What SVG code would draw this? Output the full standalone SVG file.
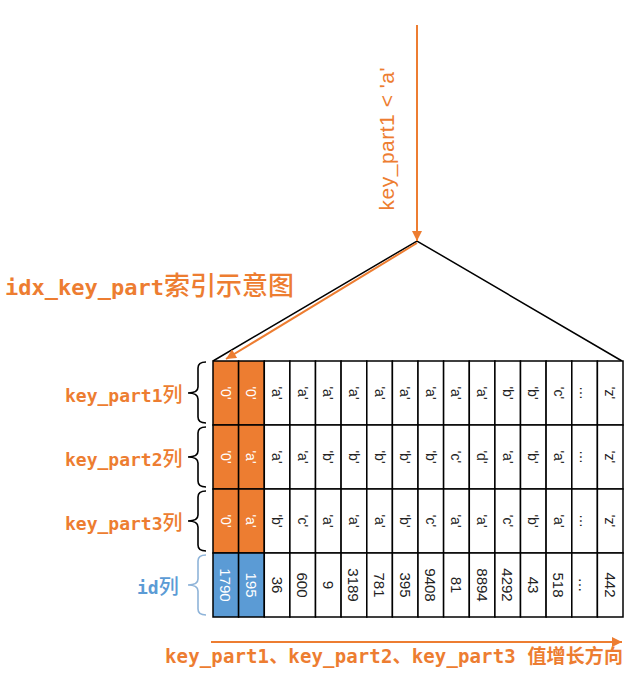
<svg xmlns="http://www.w3.org/2000/svg" width="640" height="686" viewBox="0 0 640 686">
<defs>
<style>
.lbl{font-family:"DejaVu Sans Mono","Noto Sans CJK SC",monospace;fill:#ED7D31;font-weight:bold}
.cjk{font-family:"Noto Sans CJK SC",sans-serif;font-weight:500}
.cell{fill:#fff;stroke:#000;stroke-width:1.5}
.or{fill:#ED7D31;stroke:#000;stroke-width:1.5}
.bl{fill:#5B9BD5;stroke:#000;stroke-width:1.5}
.t{font-family:"Liberation Sans",Arial,sans-serif;font-size:14px;fill:#222;text-anchor:middle;dominant-baseline:central}
.n{font-size:15px}
.w{fill:#fff}
.brace{fill:none;stroke:#000;stroke-width:1.6}
.conn{fill:none;stroke:#ED7D31;stroke-width:2}
.edge{fill:none;stroke:#000;stroke-width:1.5}
</style>
<marker id="ah" viewBox="0 0 10 10" refX="10" refY="5" markerWidth="12" markerHeight="10" markerUnits="userSpaceOnUse" orient="auto">
<path d="M0,0 L10,5 L0,10 z" fill="#ED7D31"/>
</marker>
</defs>
<rect width="640" height="686" fill="#fff"/>

<g id="title">
<text class="lbl" x="5" y="295"><tspan font-size="22">idx_key_part</tspan><tspan class="cjk" font-size="26">索引示意图</tspan></text>
</g>

<g id="tree">
<path class="edge" d="M213,361 L417,241 L622,361"/>
</g>

<g id="connectors">
<line class="conn" x1="417" y1="25" x2="417" y2="241" marker-end="url(#ah)"/>
<line class="conn" x1="417" y1="243" x2="226" y2="359" marker-end="url(#ah)"/>
<line class="conn" x1="211" y1="642" x2="622" y2="642" marker-end="url(#ah)"/>
</g>

<g id="condition">
<text x="0" y="0" transform="translate(394,139) rotate(-90)" font-family="Liberation Sans,Arial,sans-serif" font-size="21" fill="#ED7D31" text-anchor="middle" textLength="143">key_part1 &lt; 'a'</text>
</g>

<g id="labels">
<text class="lbl" x="65" y="402"><tspan font-size="18">key_part1</tspan><tspan class="cjk" font-size="20">列</tspan></text>
<text class="lbl" x="65" y="466"><tspan font-size="18">key_part2</tspan><tspan class="cjk" font-size="20">列</tspan></text>
<text class="lbl" x="65" y="530"><tspan font-size="18">key_part3</tspan><tspan class="cjk" font-size="20">列</tspan></text>
<text class="lbl" x="137" y="594" style="fill:#5B9BD5"><tspan font-size="18">id</tspan><tspan class="cjk" font-size="20">列</tspan></text>
<path class="brace" d="M206,362 Q198,362 198,368 L198,387 Q198,393 188,393 Q198,393 198,399 L198,417 Q198,423 206,423"/>
<path class="brace" d="M206,427 Q198,427 198,433 L198,451 Q198,457 188,457 Q198,457 198,463 L198,481 Q198,487 206,487"/>
<path class="brace" d="M206,491 Q198,491 198,497 L198,515 Q198,521 188,521 Q198,521 198,527 L198,545 Q198,551 206,551"/>
<path class="brace" style="stroke:#8FB4D9" d="M206,555 Q198,555 198,561 L198,579 Q198,585 188,585 Q198,585 198,591 L198,609 Q198,615 206,615"/>
</g>

<g id="row-key_part1">
<rect class="or" x="213" y="361" width="25.6" height="64"/><rect class="or" x="238.6" y="361" width="25.7" height="64"/>
<rect class="cell" x="264.3" y="361" width="25.6" height="64"/><rect class="cell" x="289.9" y="361" width="25.6" height="64"/>
<rect class="cell" x="315.5" y="361" width="25.6" height="64"/><rect class="cell" x="341.1" y="361" width="25.7" height="64"/>
<rect class="cell" x="366.8" y="361" width="25.6" height="64"/><rect class="cell" x="392.4" y="361" width="25.6" height="64"/>
<rect class="cell" x="418" y="361" width="25.6" height="64"/><rect class="cell" x="443.6" y="361" width="25.7" height="64"/>
<rect class="cell" x="469.3" y="361" width="25.6" height="64"/><rect class="cell" x="494.9" y="361" width="25.6" height="64"/>
<rect class="cell" x="520.5" y="361" width="25.6" height="64"/><rect class="cell" x="546.1" y="361" width="25.7" height="64"/>
<rect class="cell" x="571.8" y="361" width="25.6" height="64"/><rect class="cell" x="597.4" y="361" width="25.6" height="64"/>
<text class="t w" transform="translate(225.8,393) rotate(90)">'0'</text>
<text class="t w" transform="translate(251.4,393) rotate(90)">'0'</text>
<text class="t" transform="translate(277.1,393) rotate(90)">'a'</text>
<text class="t" transform="translate(302.7,393) rotate(90)">'a'</text>
<text class="t" transform="translate(328.3,393) rotate(90)">'a'</text>
<text class="t" transform="translate(353.9,393) rotate(90)">'a'</text>
<text class="t" transform="translate(379.6,393) rotate(90)">'a'</text>
<text class="t" transform="translate(405.2,393) rotate(90)">'a'</text>
<text class="t" transform="translate(430.8,393) rotate(90)">'a'</text>
<text class="t" transform="translate(456.4,393) rotate(90)">'a'</text>
<text class="t" transform="translate(482.1,393) rotate(90)">'a'</text>
<text class="t" transform="translate(507.7,393) rotate(90)">'b'</text>
<text class="t" transform="translate(533.3,393) rotate(90)">'b'</text>
<text class="t" transform="translate(558.9,393) rotate(90)">'c'</text>
<text class="t" transform="translate(584.6,393) rotate(90)">…</text>
<text class="t" transform="translate(610.2,393) rotate(90)">'z'</text>
</g>

<g id="row-key_part2">
<rect class="or" x="213" y="425" width="25.6" height="64"/><rect class="or" x="238.6" y="425" width="25.7" height="64"/>
<rect class="cell" x="264.3" y="425" width="25.6" height="64"/><rect class="cell" x="289.9" y="425" width="25.6" height="64"/>
<rect class="cell" x="315.5" y="425" width="25.6" height="64"/><rect class="cell" x="341.1" y="425" width="25.7" height="64"/>
<rect class="cell" x="366.8" y="425" width="25.6" height="64"/><rect class="cell" x="392.4" y="425" width="25.6" height="64"/>
<rect class="cell" x="418" y="425" width="25.6" height="64"/><rect class="cell" x="443.6" y="425" width="25.7" height="64"/>
<rect class="cell" x="469.3" y="425" width="25.6" height="64"/><rect class="cell" x="494.9" y="425" width="25.6" height="64"/>
<rect class="cell" x="520.5" y="425" width="25.6" height="64"/><rect class="cell" x="546.1" y="425" width="25.7" height="64"/>
<rect class="cell" x="571.8" y="425" width="25.6" height="64"/><rect class="cell" x="597.4" y="425" width="25.6" height="64"/>
<text class="t w" transform="translate(225.8,457) rotate(90)">'0'</text>
<text class="t w" transform="translate(251.4,457) rotate(90)">'a'</text>
<text class="t" transform="translate(277.1,457) rotate(90)">'a'</text>
<text class="t" transform="translate(302.7,457) rotate(90)">'a'</text>
<text class="t" transform="translate(328.3,457) rotate(90)">'b'</text>
<text class="t" transform="translate(353.9,457) rotate(90)">'b'</text>
<text class="t" transform="translate(379.6,457) rotate(90)">'b'</text>
<text class="t" transform="translate(405.2,457) rotate(90)">'b'</text>
<text class="t" transform="translate(430.8,457) rotate(90)">'b'</text>
<text class="t" transform="translate(456.4,457) rotate(90)">'c'</text>
<text class="t" transform="translate(482.1,457) rotate(90)">'d'</text>
<text class="t" transform="translate(507.7,457) rotate(90)">'a'</text>
<text class="t" transform="translate(533.3,457) rotate(90)">'b'</text>
<text class="t" transform="translate(558.9,457) rotate(90)">'a'</text>
<text class="t" transform="translate(584.6,457) rotate(90)">…</text>
<text class="t" transform="translate(610.2,457) rotate(90)">'z'</text>
</g>

<g id="row-key_part3">
<rect class="or" x="213" y="489" width="25.6" height="64"/><rect class="or" x="238.6" y="489" width="25.7" height="64"/>
<rect class="cell" x="264.3" y="489" width="25.6" height="64"/><rect class="cell" x="289.9" y="489" width="25.6" height="64"/>
<rect class="cell" x="315.5" y="489" width="25.6" height="64"/><rect class="cell" x="341.1" y="489" width="25.7" height="64"/>
<rect class="cell" x="366.8" y="489" width="25.6" height="64"/><rect class="cell" x="392.4" y="489" width="25.6" height="64"/>
<rect class="cell" x="418" y="489" width="25.6" height="64"/><rect class="cell" x="443.6" y="489" width="25.7" height="64"/>
<rect class="cell" x="469.3" y="489" width="25.6" height="64"/><rect class="cell" x="494.9" y="489" width="25.6" height="64"/>
<rect class="cell" x="520.5" y="489" width="25.6" height="64"/><rect class="cell" x="546.1" y="489" width="25.7" height="64"/>
<rect class="cell" x="571.8" y="489" width="25.6" height="64"/><rect class="cell" x="597.4" y="489" width="25.6" height="64"/>
<text class="t w" transform="translate(225.8,521) rotate(90)">'0'</text>
<text class="t w" transform="translate(251.4,521) rotate(90)">'a'</text>
<text class="t" transform="translate(277.1,521) rotate(90)">'b'</text>
<text class="t" transform="translate(302.7,521) rotate(90)">'c'</text>
<text class="t" transform="translate(328.3,521) rotate(90)">'a'</text>
<text class="t" transform="translate(353.9,521) rotate(90)">'a'</text>
<text class="t" transform="translate(379.6,521) rotate(90)">'a'</text>
<text class="t" transform="translate(405.2,521) rotate(90)">'b'</text>
<text class="t" transform="translate(430.8,521) rotate(90)">'c'</text>
<text class="t" transform="translate(456.4,521) rotate(90)">'a'</text>
<text class="t" transform="translate(482.1,521) rotate(90)">'a'</text>
<text class="t" transform="translate(507.7,521) rotate(90)">'c'</text>
<text class="t" transform="translate(533.3,521) rotate(90)">'b'</text>
<text class="t" transform="translate(558.9,521) rotate(90)">'a'</text>
<text class="t" transform="translate(584.6,521) rotate(90)">…</text>
<text class="t" transform="translate(610.2,521) rotate(90)">'z'</text>
</g>

<g id="row-id">
<rect class="bl" x="213" y="553" width="25.6" height="64"/><rect class="bl" x="238.6" y="553" width="25.7" height="64"/>
<rect class="cell" x="264.3" y="553" width="25.6" height="64"/><rect class="cell" x="289.9" y="553" width="25.6" height="64"/>
<rect class="cell" x="315.5" y="553" width="25.6" height="64"/><rect class="cell" x="341.1" y="553" width="25.7" height="64"/>
<rect class="cell" x="366.8" y="553" width="25.6" height="64"/><rect class="cell" x="392.4" y="553" width="25.6" height="64"/>
<rect class="cell" x="418" y="553" width="25.6" height="64"/><rect class="cell" x="443.6" y="553" width="25.7" height="64"/>
<rect class="cell" x="469.3" y="553" width="25.6" height="64"/><rect class="cell" x="494.9" y="553" width="25.6" height="64"/>
<rect class="cell" x="520.5" y="553" width="25.6" height="64"/><rect class="cell" x="546.1" y="553" width="25.7" height="64"/>
<rect class="cell" x="571.8" y="553" width="25.6" height="64"/><rect class="cell" x="597.4" y="553" width="25.6" height="64"/>
<text class="t n w" transform="translate(225.8,585) rotate(90)">1790</text>
<text class="t n w" transform="translate(251.4,585) rotate(90)">195</text>
<text class="t n" transform="translate(277.1,585) rotate(90)">36</text>
<text class="t n" transform="translate(302.7,585) rotate(90)">600</text>
<text class="t n" transform="translate(328.3,585) rotate(90)">9</text>
<text class="t n" transform="translate(353.9,585) rotate(90)">3189</text>
<text class="t n" transform="translate(379.6,585) rotate(90)">781</text>
<text class="t n" transform="translate(405.2,585) rotate(90)">395</text>
<text class="t n" transform="translate(430.8,585) rotate(90)">9408</text>
<text class="t n" transform="translate(456.4,585) rotate(90)">81</text>
<text class="t n" transform="translate(482.1,585) rotate(90)">8894</text>
<text class="t n" transform="translate(507.7,585) rotate(90)">4292</text>
<text class="t n" transform="translate(533.3,585) rotate(90)">43</text>
<text class="t n" transform="translate(558.9,585) rotate(90)">518</text>
<text class="t n" transform="translate(584.6,585) rotate(90)">…</text>
<text class="t n" transform="translate(610.2,585) rotate(90)">442</text>
</g>

<g id="direction">
<text class="lbl" x="165" y="663" font-size="19" textLength="458" lengthAdjust="spacing">key_part1、key_part2、key_part3 值增长方向</text>
</g>
</svg>
